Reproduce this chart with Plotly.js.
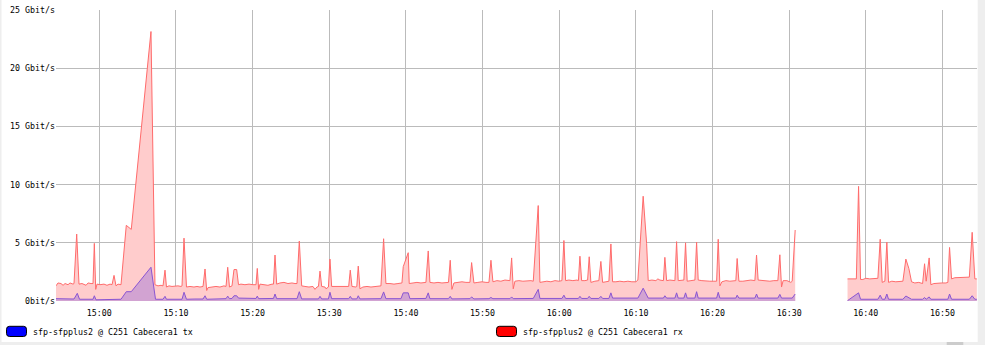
<!DOCTYPE html>
<html>
<head>
<meta charset="utf-8">
<script src="https://cdn.plot.ly/plotly-3.0.1.min.js"></script>
<style>
html,body{margin:0;padding:0;background:#fff;}
#chart{width:985px;height:345px;}
</style>
</head>
<body>
<div id="chart"></div>
<script>
// Minutes after 15:00 (same day) and traffic in Gbit/s
const rxMinutes = [-5.65,-5.39,-5.00,-4.73,-4.47,-4.08,-3.82,-3.43,-3.30,-2.95,-2.65,-2.26,-1.73,-1.47,-1.08,-0.82,-0.65,-0.47,-0.30,
0.09,0.61,1.00,1.40,1.66,1.92,2.18,2.44,2.83,3.52,4.17,6.74,7.26,7.66,8.05,8.31,8.57,8.76,9.09,9.48,9.87,
10.26,10.66,10.79,11.05,11.37,11.83,12.35,12.74,13.13,13.53,13.79,14.01,14.18,14.70,15.22,15.74,16.26,16.53,16.75,16.98,17.31,17.57,17.92,18.16,18.48,19.00,19.53,
20.05,20.44,20.61,20.79,20.96,21.48,22.00,22.53,22.72,22.92,23.14,23.57,24.09,24.61,25.13,25.53,25.79,26.09,26.40,26.83,27.35,27.87,28.13,28.39,28.59,28.79,29.01,29.44,29.57,29.89,
30.09,30.31,30.74,31.39,32.05,32.53,32.74,32.96,33.48,33.59,33.78,34.00,34.39,34.92,35.44,35.96,36.48,36.74,37.09,37.39,37.92,38.44,38.96,39.48,39.65,
40.30,40.43,40.92,41.44,41.96,42.61,42.91,43.13,43.66,44.18,44.70,45.22,45.55,45.78,46.00,46.26,46.79,47.31,47.83,48.35,48.57,48.87,49.39,49.92,
50.44,50.83,51.09,51.35,51.87,52.39,52.92,53.44,53.57,53.79,54.00,54.22,54.74,55.26,55.78,56.31,56.61,57.26,57.48,57.87,58.39,58.91,59.44,59.96,
60.35,60.61,60.83,61.26,61.78,62.31,62.50,62.70,62.92,63.35,63.70,63.91,64.13,64.65,65.17,65.43,65.66,66.09,66.48,66.74,66.96,67.39,67.91,68.44,68.96,69.48,
70.00,70.26,70.95,71.40,71.61,72.09,72.61,72.87,73.13,73.59,73.78,74.01,74.44,75.09,75.31,75.52,76.00,76.26,76.48,76.69,77.18,77.70,77.92,78.13,78.61,79.13,79.65,
80.18,80.53,80.74,80.96,81.22,81.74,82.26,82.78,83.04,83.21,83.44,83.96,84.48,85.00,85.52,85.74,85.95,86.44,86.96,87.48,88.00,88.52,88.78,89.00,89.21,89.70,
90.22,90.39,90.78,94.00,97.61,98.04,98.43,98.76,99.05,99.31,99.61,
100.00,100.52,101.04,101.57,101.87,102.13,102.48,102.74,102.96,103.39,103.91,104.43,104.83,105.22,105.61,105.96,106.39,106.91,107.40,107.66,107.87,108.26,108.48,108.87,109.39,109.91,
110.44,110.70,110.92,111.18,111.61,112.13,112.65,113.17,113.50,113.87,114.22,114.48];

const rxGbps = [1.3,1.55,1.5,1.35,1.5,1.4,1.55,1.45,1.5,5.75,1.45,1.5,1.35,1.55,1.5,1.5,4.95,1.0,1.45,
1.4,1.45,1.35,1.45,1.4,2.2,1.3,1.45,1.4,6.5,6.15,23.15,1.4,1.3,1.35,1.3,2.65,1.2,1.3,1.25,1.3,
1.3,1.25,1.3,5.4,1.2,1.25,1.2,1.25,1.2,1.25,2.75,0.9,1.15,1.2,1.25,1.2,1.3,1.25,2.9,1.2,1.3,2.7,2.7,1.4,1.45,1.4,1.45,
1.4,1.4,2.8,1.0,1.45,1.4,1.35,1.45,1.45,3.95,1.45,1.55,1.6,1.5,1.55,1.5,1.5,5.15,1.3,1.25,1.2,1.25,1.0,1.2,1.25,2.57,1.25,1.2,1.05,1.2,
3.6,1.25,1.25,1.2,1.25,1.25,2.65,1.25,1.2,1.25,3.0,1.05,1.2,1.25,1.2,1.25,1.3,1.3,5.35,1.5,1.5,1.45,1.5,1.55,2.95,
4.15,1.5,1.55,1.6,1.55,1.6,4.3,1.6,1.55,1.6,1.55,1.6,1.6,3.5,1.0,1.55,1.6,1.65,1.6,1.6,3.3,1.55,1.6,1.65,
1.6,1.6,3.5,1.65,1.75,1.7,1.8,1.75,1.75,3.7,1.05,1.7,1.75,1.7,1.75,1.75,1.7,8.2,1.6,1.65,1.7,1.65,1.75,1.7,
1.75,5.2,1.75,1.8,1.75,1.8,1.75,3.85,1.75,1.75,1.8,3.8,1.6,1.7,1.75,3.4,1.6,1.65,1.7,4.9,1.65,1.65,1.7,1.65,1.7,1.65,
1.65,1.8,9.0,4.95,1.75,1.8,1.75,1.9,1.8,1.75,3.75,1.75,1.8,1.75,5.1,1.75,1.75,1.8,5.0,1.7,1.75,1.8,5.05,1.8,1.75,1.7,1.7,
1.7,1.7,5.3,1.3,1.65,1.75,1.7,1.75,1.75,3.65,1.7,1.7,1.75,1.8,1.75,3.95,1.8,1.75,1.75,1.7,1.75,1.75,3.97,1.2,1.75,1.75,
1.6,1.7,6.1,null,1.9,1.9,1.85,1.9,9.85,1.85,1.85,
1.95,1.9,1.9,1.95,5.3,1.6,1.7,5.05,1.6,1.7,1.65,1.7,1.7,3.6,2.8,1.65,1.55,1.6,1.5,3.2,1.7,3.7,1.4,1.5,1.55,1.55,
1.55,1.6,4.6,1.9,2.0,2.0,2.0,2.0,2.05,5.9,1.9,1.9];

const txMinutes = [-5.65,-4.86,-3.82,-3.30,-2.87,-2.58,-1.47,-0.82,-0.65,-0.43,0.74,2.05,2.83,3.52,4.17,6.74,7.33,8.31,8.57,8.76,
10.79,11.05,11.37,12.48,13.53,13.79,14.01,16.53,16.75,16.98,17.31,17.57,17.92,18.16,19.40,20.44,20.61,20.79,22.72,22.92,23.14,24.87,25.79,26.09,26.40,
28.59,28.79,29.01,29.89,30.09,30.31,32.53,32.74,32.96,33.59,33.78,34.00,36.74,37.09,37.39,39.35,39.65,40.30,40.52,42.61,42.91,43.13,45.55,45.78,46.00,
48.35,48.57,48.87,50.83,51.09,51.35,53.57,53.79,54.00,56.61,57.26,57.48,60.35,60.61,60.83,62.50,62.70,62.92,63.70,63.91,64.13,65.17,65.43,65.66,66.48,66.74,66.96,
70.26,70.95,71.61,73.59,73.78,74.01,75.09,75.31,75.52,76.26,76.48,76.69,77.70,77.92,78.13,80.53,80.74,80.96,83.04,83.21,83.44,85.52,85.74,85.95,88.52,88.78,89.00,
90.39,90.78,94.00,97.61,99.05,99.31,101.57,101.87,102.13,102.48,102.74,102.96,104.83,105.22,105.96,107.40,107.66,107.87,108.26,108.48,110.70,110.92,111.18,113.50,113.87,114.22,114.48];

const txGbps = [0.2,0.18,0.15,0.17,0.66,0.15,0.15,0.15,0.45,0.1,0.12,0.15,0.15,0.8,0.8,2.9,0.15,0.15,0.4,0.15,
0.15,0.75,0.15,0.17,0.17,0.45,0.15,0.2,0.42,0.2,0.22,0.45,0.45,0.25,0.22,0.22,0.42,0.2,0.22,0.6,0.2,0.2,0.2,0.8,0.18,
0.18,0.4,0.18,0.18,0.75,0.2,0.2,0.4,0.18,0.18,0.45,0.18,0.2,0.78,0.2,0.2,0.7,0.7,0.2,0.22,0.7,0.2,0.2,0.4,0.18,
0.2,0.35,0.18,0.2,0.3,0.2,0.2,0.35,0.2,0.22,1.0,0.22,0.22,0.5,0.22,0.22,0.4,0.22,0.22,0.4,0.22,0.22,0.4,0.22,0.22,0.7,0.25,
0.25,1.1,0.25,0.25,0.45,0.25,0.25,0.7,0.25,0.25,0.7,0.25,0.25,0.8,0.25,0.25,0.75,0.25,0.25,0.5,0.25,0.25,0.6,0.25,0.25,0.57,0.25,
0.25,0.6,null,0.03,0.7,0.15,0.15,0.5,0.15,0.15,0.6,0.15,0.15,0.43,0.15,0.15,0.3,0.15,0.35,0.15,0.15,0.6,0.15,0.15,0.45,0.15,0.15];

const seriesNames = ["sfp-sfpplus2 @ C251 Cabecera1 tx", "sfp-sfpplus2 @ C251 Cabecera1 rx"];
const yTickVals = [0, 5, 10, 15, 20, 25];
const yTickText = ["0bit/s", "5 Gbit/s", "10 Gbit/s", "15 Gbit/s", "20 Gbit/s", "25 Gbit/s"];
const xRangeMinutes = [-5.65, 114.5];

function stamp(m) {
  const ms = Math.round((15 * 60 + m) * 60000);
  const h = Math.floor(ms / 3600000);
  const mi = Math.floor((ms % 3600000) / 60000);
  const s = Math.floor((ms % 60000) / 1000);
  const r = ms % 1000;
  const p = (n, w) => String(n).padStart(w || 2, '0');
  return '2024-01-01 ' + p(h) + ':' + p(mi) + ':' + p(s) + '.' + p(r, 3);
}

// split a series at missing samples so each run is filled on its own
function segments(mins, vals) {
  const out = [];
  let cur = {x: [], y: []};
  for (let i = 0; i < mins.length; i++) {
    if (vals[i] === null) {
      if (cur.x.length) out.push(cur);
      cur = {x: [], y: []};
    } else {
      cur.x.push(stamp(mins[i]));
      cur.y.push(vals[i]);
    }
  }
  if (cur.x.length) out.push(cur);
  return out;
}

const FONT = "DejaVu Sans Mono, monospace";
const W = 985, H = 345, L = 56, R = 8, T = 10, B = 44;
const PW = W - L - R, PH = H - T - B;
const px = X => (X - L) / PW;
const py = Y => (H - B - Y) / PH;

function roundRect(x0, y0, x1, y1, r) {
  const a = px(x0), b = px(x1), c = py(y0), d = py(y1);
  const rx = r / PW, ry = r / PH;
  return 'M' + (a + rx) + ',' + c + ' L' + (b - rx) + ',' + c + ' Q' + b + ',' + c + ' ' + b + ',' + (c - ry) +
    ' L' + b + ',' + (d + ry) + ' Q' + b + ',' + d + ' ' + (b - rx) + ',' + d +
    ' L' + (a + rx) + ',' + d + ' Q' + a + ',' + d + ' ' + a + ',' + (d + ry) +
    ' L' + a + ',' + (c - ry) + ' Q' + a + ',' + c + ' ' + (a + rx) + ',' + c + ' Z';
}

const traces = [];
segments(rxMinutes, rxGbps).forEach(sg => traces.push({
  x: sg.x, y: sg.y, type: 'scatter', mode: 'lines', name: seriesNames[1],
  fill: 'tozeroy', fillcolor: '#ffcccc', line: {color: '#ff6b6b', width: 1}
}));
segments(txMinutes, txGbps).forEach(sg => traces.push({
  x: sg.x, y: sg.y, type: 'scatter', mode: 'lines', name: seriesNames[0],
  fill: 'tozeroy', fillcolor: '#d2a3d2', line: {color: '#8a55d2', width: 1}
}));

const layout = {
  width: W, height: H,
  margin: {l: L, r: R, t: T, b: B, pad: 0},
  paper_bgcolor: '#ffffff', plot_bgcolor: '#ffffff',
  showlegend: false,
  hovermode: false,
  font: {family: FONT, size: 8.3, color: '#000'},
  xaxis: {
    type: 'date', range: xRangeMinutes.map(stamp),
    tickformat: '%H:%M', dtick: 600000, tick0: stamp(0),
    showgrid: true, gridcolor: '#bbbbbb', gridwidth: 1,
    zeroline: false, showline: false, ticks: '', ticklen: 0,
    tickfont: {family: FONT, size: 8.3, color: '#000'}, ticklabelstandoff: 6
  },
  yaxis: {
    range: [0, 25], tickvals: yTickVals, ticktext: yTickText,
    showgrid: true, gridcolor: '#bbbbbb', gridwidth: 1,
    zeroline: false, showline: false, ticks: '', ticklen: 0,
    tickfont: {family: FONT, size: 8.3, color: '#000'}, ticklabelstandoff: 0
  },
  shapes: [
    {type: 'rect', xref: 'paper', yref: 'paper', x0: px(977.7), x1: px(985), y0: py(0), y1: py(345), fillcolor: '#eeeeee', line: {width: 0}, layer: 'above'},
    {type: 'rect', xref: 'paper', yref: 'paper', x0: px(0), x1: px(985), y0: py(342), y1: py(345), fillcolor: '#eeeeee', line: {width: 0}, layer: 'above'},
    {type: 'rect', xref: 'paper', yref: 'paper', x0: px(946.7), x1: px(963.3), y0: py(342), y1: py(345), fillcolor: '#cccccc', line: {width: 0}, layer: 'above'},
    {type: 'rect', xref: 'paper', yref: 'paper', x0: px(0), x1: px(1.5), y0: py(0), y1: py(345), fillcolor: '#eeeeee', line: {width: 0}, layer: 'above'},
    {type: 'path', xref: 'paper', yref: 'paper', path: roundRect(6.5, 326.3, 26.5, 336.5, 3), fillcolor: '#0000ff', line: {color: '#000', width: 1}},
    {type: 'path', xref: 'paper', yref: 'paper', path: roundRect(496.5, 326.3, 516.5, 336.5, 3), fillcolor: '#ff0000', line: {color: '#000', width: 1}}
  ],
  annotations: [
    {xref: 'paper', yref: 'paper', x: px(31), y: py(331.5), xanchor: 'left', yanchor: 'middle', showarrow: false, text: seriesNames[0], font: {family: FONT, size: 8.3, color: '#000'}},
    {xref: 'paper', yref: 'paper', x: px(521), y: py(331.5), xanchor: 'left', yanchor: 'middle', showarrow: false, text: seriesNames[1], font: {family: FONT, size: 8.3, color: '#000'}}
  ]
};

Plotly.newPlot('chart', traces, layout, {displayModeBar: false, staticPlot: true});
</script>
</body>
</html>
